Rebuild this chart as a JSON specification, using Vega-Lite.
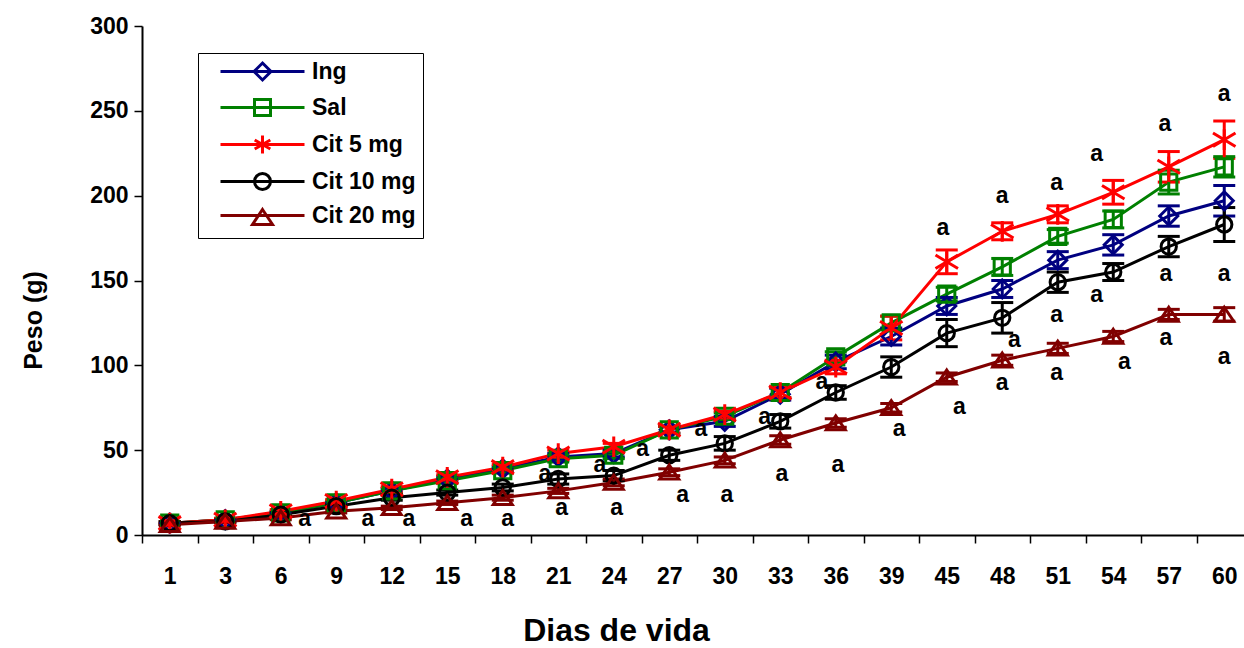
{
  "$schema": "https://vega.github.io/schema/vega-lite/v6.json",
  "autosize": {"type": "none"},
  "width": 1102,
  "height": 509,
  "padding": {"left": 142, "top": 26, "right": 0, "bottom": 113},
  "background": "#ffffff",
  "config": {
    "view": {"stroke": null},
    "font": "Liberation Sans",
    "axis": {"labelFont": "Liberation Sans", "titleFont": "Liberation Sans", "labelFontWeight": "bold", "titleFontWeight": "bold", "labelColor": "#000", "titleColor": "#000", "domainColor": "#000", "tickColor": "#000", "grid": false}
  },
  "datasets": {
    "pesos": [
      {"serie": "Ing", "dia": 1, "peso": 7, "ep": 0.8},
      {"serie": "Ing", "dia": 3, "peso": 9, "ep": 0.8},
      {"serie": "Ing", "dia": 6, "peso": 13, "ep": 1},
      {"serie": "Ing", "dia": 9, "peso": 19, "ep": 1},
      {"serie": "Ing", "dia": 12, "peso": 26, "ep": 1.5},
      {"serie": "Ing", "dia": 15, "peso": 33, "ep": 1.5},
      {"serie": "Ing", "dia": 18, "peso": 39, "ep": 1.5},
      {"serie": "Ing", "dia": 21, "peso": 46, "ep": 2},
      {"serie": "Ing", "dia": 24, "peso": 48, "ep": 2},
      {"serie": "Ing", "dia": 27, "peso": 62, "ep": 2},
      {"serie": "Ing", "dia": 30, "peso": 67, "ep": 3},
      {"serie": "Ing", "dia": 33, "peso": 83, "ep": 3.5},
      {"serie": "Ing", "dia": 36, "peso": 102, "ep": 4},
      {"serie": "Ing", "dia": 39, "peso": 117, "ep": 5},
      {"serie": "Ing", "dia": 45, "peso": 135, "ep": 5},
      {"serie": "Ing", "dia": 48, "peso": 145, "ep": 5},
      {"serie": "Ing", "dia": 51, "peso": 162, "ep": 5},
      {"serie": "Ing", "dia": 54, "peso": 171, "ep": 6},
      {"serie": "Ing", "dia": 57, "peso": 188, "ep": 6},
      {"serie": "Ing", "dia": 60, "peso": 197, "ep": 9},
      {"serie": "Sal", "dia": 1, "peso": 7, "ep": 0.8},
      {"serie": "Sal", "dia": 3, "peso": 9, "ep": 0.8},
      {"serie": "Sal", "dia": 6, "peso": 13, "ep": 1},
      {"serie": "Sal", "dia": 9, "peso": 19, "ep": 1},
      {"serie": "Sal", "dia": 12, "peso": 26, "ep": 1.5},
      {"serie": "Sal", "dia": 15, "peso": 32, "ep": 1.5},
      {"serie": "Sal", "dia": 18, "peso": 38, "ep": 1.5},
      {"serie": "Sal", "dia": 21, "peso": 45, "ep": 2},
      {"serie": "Sal", "dia": 24, "peso": 47, "ep": 2},
      {"serie": "Sal", "dia": 27, "peso": 62, "ep": 2},
      {"serie": "Sal", "dia": 30, "peso": 70, "ep": 2},
      {"serie": "Sal", "dia": 33, "peso": 84, "ep": 3},
      {"serie": "Sal", "dia": 36, "peso": 105, "ep": 3},
      {"serie": "Sal", "dia": 39, "peso": 125, "ep": 4},
      {"serie": "Sal", "dia": 45, "peso": 142, "ep": 4},
      {"serie": "Sal", "dia": 48, "peso": 158, "ep": 5},
      {"serie": "Sal", "dia": 51, "peso": 176, "ep": 4},
      {"serie": "Sal", "dia": 54, "peso": 186, "ep": 5},
      {"serie": "Sal", "dia": 57, "peso": 208, "ep": 7},
      {"serie": "Sal", "dia": 60, "peso": 217, "ep": 6},
      {"serie": "Cit 5 mg", "dia": 1, "peso": 7, "ep": 0.8},
      {"serie": "Cit 5 mg", "dia": 3, "peso": 9, "ep": 0.8},
      {"serie": "Cit 5 mg", "dia": 6, "peso": 14, "ep": 1},
      {"serie": "Cit 5 mg", "dia": 9, "peso": 20, "ep": 1},
      {"serie": "Cit 5 mg", "dia": 12, "peso": 27, "ep": 1.5},
      {"serie": "Cit 5 mg", "dia": 15, "peso": 34, "ep": 1.5},
      {"serie": "Cit 5 mg", "dia": 18, "peso": 40, "ep": 1.5},
      {"serie": "Cit 5 mg", "dia": 21, "peso": 48, "ep": 2},
      {"serie": "Cit 5 mg", "dia": 24, "peso": 52, "ep": 2},
      {"serie": "Cit 5 mg", "dia": 27, "peso": 62, "ep": 2},
      {"serie": "Cit 5 mg", "dia": 30, "peso": 71, "ep": 2},
      {"serie": "Cit 5 mg", "dia": 33, "peso": 84, "ep": 3},
      {"serie": "Cit 5 mg", "dia": 36, "peso": 99, "ep": 4},
      {"serie": "Cit 5 mg", "dia": 39, "peso": 122, "ep": 7},
      {"serie": "Cit 5 mg", "dia": 45, "peso": 161, "ep": 7},
      {"serie": "Cit 5 mg", "dia": 48, "peso": 179, "ep": 5},
      {"serie": "Cit 5 mg", "dia": 51, "peso": 189, "ep": 5},
      {"serie": "Cit 5 mg", "dia": 54, "peso": 202, "ep": 7},
      {"serie": "Cit 5 mg", "dia": 57, "peso": 217, "ep": 9},
      {"serie": "Cit 5 mg", "dia": 60, "peso": 233, "ep": 11},
      {"serie": "Cit 10 mg", "dia": 1, "peso": 7, "ep": 0.8},
      {"serie": "Cit 10 mg", "dia": 3, "peso": 8, "ep": 0.8},
      {"serie": "Cit 10 mg", "dia": 6, "peso": 12, "ep": 1},
      {"serie": "Cit 10 mg", "dia": 9, "peso": 17, "ep": 1},
      {"serie": "Cit 10 mg", "dia": 12, "peso": 22, "ep": 1.5},
      {"serie": "Cit 10 mg", "dia": 15, "peso": 25, "ep": 1.5},
      {"serie": "Cit 10 mg", "dia": 18, "peso": 28, "ep": 2},
      {"serie": "Cit 10 mg", "dia": 21, "peso": 33, "ep": 3},
      {"serie": "Cit 10 mg", "dia": 24, "peso": 35, "ep": 3},
      {"serie": "Cit 10 mg", "dia": 27, "peso": 47, "ep": 3},
      {"serie": "Cit 10 mg", "dia": 30, "peso": 54, "ep": 4},
      {"serie": "Cit 10 mg", "dia": 33, "peso": 67, "ep": 4},
      {"serie": "Cit 10 mg", "dia": 36, "peso": 84, "ep": 4},
      {"serie": "Cit 10 mg", "dia": 39, "peso": 99, "ep": 6},
      {"serie": "Cit 10 mg", "dia": 45, "peso": 119, "ep": 8},
      {"serie": "Cit 10 mg", "dia": 48, "peso": 128, "ep": 9},
      {"serie": "Cit 10 mg", "dia": 51, "peso": 149, "ep": 6},
      {"serie": "Cit 10 mg", "dia": 54, "peso": 155, "ep": 5},
      {"serie": "Cit 10 mg", "dia": 57, "peso": 170, "ep": 6},
      {"serie": "Cit 10 mg", "dia": 60, "peso": 183, "ep": 10},
      {"serie": "Cit 20 mg", "dia": 1, "peso": 6, "ep": 0.8},
      {"serie": "Cit 20 mg", "dia": 3, "peso": 8, "ep": 0.8},
      {"serie": "Cit 20 mg", "dia": 6, "peso": 10, "ep": 1},
      {"serie": "Cit 20 mg", "dia": 9, "peso": 14, "ep": 1},
      {"serie": "Cit 20 mg", "dia": 12, "peso": 16, "ep": 1},
      {"serie": "Cit 20 mg", "dia": 15, "peso": 19, "ep": 1},
      {"serie": "Cit 20 mg", "dia": 18, "peso": 22, "ep": 1.5},
      {"serie": "Cit 20 mg", "dia": 21, "peso": 26, "ep": 1.5},
      {"serie": "Cit 20 mg", "dia": 24, "peso": 31, "ep": 2},
      {"serie": "Cit 20 mg", "dia": 27, "peso": 37, "ep": 2},
      {"serie": "Cit 20 mg", "dia": 30, "peso": 44, "ep": 2},
      {"serie": "Cit 20 mg", "dia": 33, "peso": 56, "ep": 2.5},
      {"serie": "Cit 20 mg", "dia": 36, "peso": 66, "ep": 2.5},
      {"serie": "Cit 20 mg", "dia": 39, "peso": 75, "ep": 2.5},
      {"serie": "Cit 20 mg", "dia": 45, "peso": 93, "ep": 2.5},
      {"serie": "Cit 20 mg", "dia": 48, "peso": 103, "ep": 3},
      {"serie": "Cit 20 mg", "dia": 51, "peso": 110, "ep": 3},
      {"serie": "Cit 20 mg", "dia": 54, "peso": 117, "ep": 3},
      {"serie": "Cit 20 mg", "dia": 57, "peso": 130, "ep": 3},
      {"serie": "Cit 20 mg", "dia": 60, "peso": 130, "ep": 4}
    ],
    "letras": [
      {"dia": 6, "desl": 0.43, "peso": 10.6, "letra": "a"},
      {"dia": 9, "desl": 0.57, "peso": 10.6, "letra": "a"},
      {"dia": 12, "desl": 0.31, "peso": 10.6, "letra": "a"},
      {"dia": 15, "desl": 0.35, "peso": 10.6, "letra": "a"},
      {"dia": 18, "desl": 0.09, "peso": 10.6, "letra": "a"},
      {"dia": 21, "desl": 0.06, "peso": 17.1, "letra": "a"},
      {"dia": 24, "desl": 0.05, "peso": 17.1, "letra": "a"},
      {"dia": 21, "desl": -0.24, "peso": 37.2, "letra": "a"},
      {"dia": 24, "desl": -0.25, "peso": 42.5, "letra": "a"},
      {"dia": 24, "desl": 0.52, "peso": 52, "letra": "a"},
      {"dia": 27, "desl": 0.24, "peso": 24.8, "letra": "a"},
      {"dia": 30, "desl": 0.04, "peso": 24.8, "letra": "a"},
      {"dia": 30, "desl": -0.43, "peso": 63.8, "letra": "a"},
      {"dia": 33, "desl": -0.28, "peso": 70.9, "letra": "a"},
      {"dia": 33, "desl": 0.03, "peso": 37.2, "letra": "a"},
      {"dia": 36, "desl": 0.04, "peso": 42.5, "letra": "a"},
      {"dia": 36, "desl": -0.25, "peso": 91.6, "letra": "a"},
      {"dia": 39, "desl": 0.14, "peso": 63.8, "letra": "a"},
      {"dia": 45, "desl": -0.07, "peso": 181.9, "letra": "a"},
      {"dia": 48, "desl": 0, "peso": 200.8, "letra": "a"},
      {"dia": 51, "desl": -0.02, "peso": 208.5, "letra": "a"},
      {"dia": 54, "desl": -0.3, "peso": 225.6, "letra": "a"},
      {"dia": 57, "desl": -0.07, "peso": 243.4, "letra": "a"},
      {"dia": 60, "desl": 0, "peso": 261.1, "letra": "a"},
      {"dia": 57, "desl": -0.05, "peso": 154.8, "letra": "a"},
      {"dia": 60, "desl": 0, "peso": 154.8, "letra": "a"},
      {"dia": 54, "desl": -0.3, "peso": 142.4, "letra": "a"},
      {"dia": 51, "desl": -0.02, "peso": 131.1, "letra": "a"},
      {"dia": 48, "desl": 0.22, "peso": 116.4, "letra": "a"},
      {"dia": 51, "desl": -0.02, "peso": 96.9, "letra": "a"},
      {"dia": 48, "desl": 0, "peso": 91, "letra": "a"},
      {"dia": 45, "desl": 0.23, "peso": 76.8, "letra": "a"},
      {"dia": 54, "desl": 0.2, "peso": 103.4, "letra": "a"},
      {"dia": 57, "desl": -0.05, "peso": 117, "letra": "a"},
      {"dia": 60, "desl": 0, "peso": 106.3, "letra": "a"}
    ]
  },
  "encoding": {
    "x": {
      "field": "dia", "type": "ordinal",
      "scale": {"range": [0, 1110], "paddingInner": 0, "paddingOuter": 0},
      "axis": {
        "title": "Dias de vida", "labelAngle": 0, "tickBand": "extent",
        "tickSize": 8, "tickWidth": 1.5, "domainWidth": 2,
        "labelFontSize": 23, "labelPadding": 22,
        "titleFontSize": 32, "titleX": 474, "titleY": 105,
        "titleAlign": "center", "titleBaseline": "alphabetic"
      }
    },
    "y": {
      "field": "peso", "type": "quantitative",
      "scale": {"domain": [0, 300], "nice": false, "zero": true},
      "axis": {
        "title": "Peso (g)", "values": [0, 50, 100, 150, 200, 250, 300],
        "tickSize": 8, "tickWidth": 1.5, "domainWidth": 2,
        "labelFontSize": 23, "labelPadding": 6,
        "titleFontSize": 25, "titleX": -109, "titleY": 294,
        "titleAlign": "center", "titleBaseline": "middle", "titleAngle": 270
      }
    }
  },
  "layer": [
    {
      "data": {"values": [{}]},
      "mark": {"type": "rule", "color": "#8a8a8a", "strokeWidth": 3},
      "encoding": {"x": null, "y": {"datum": 300}}
    },
    {
      "data": {"name": "pesos"},
      "mark": {"type": "line", "strokeWidth": 3},
      "encoding": {
        "color": {"field": "serie", "type": "nominal", "legend": null,
          "scale": {"domain": ["Ing", "Sal", "Cit 5 mg", "Cit 10 mg", "Cit 20 mg"], "range": ["#000080", "#008000", "#ff0000", "#000000", "#800000"]}}
      }
    },
    {
      "data": {"name": "pesos"},
      "mark": {"type": "errorbar", "opacity": 1, "ticks": {"size": 22, "thickness": 3, "opacity": 1}, "rule": {"strokeWidth": 3, "opacity": 1}},
      "encoding": {
        "yError": {"field": "ep"},
        "color": {"field": "serie", "type": "nominal", "legend": null,
          "scale": {"domain": ["Ing", "Sal", "Cit 5 mg", "Cit 10 mg", "Cit 20 mg"], "range": ["#000080", "#008000", "#ff0000", "#000000", "#800000"]}}
      }
    },
    {
      "data": {"name": "pesos"},
      "mark": {"type": "point", "filled": false, "strokeWidth": 3, "size": 324, "opacity": 1},
      "encoding": {
        "color": {"field": "serie", "type": "nominal", "legend": null,
          "scale": {"domain": ["Ing", "Sal", "Cit 5 mg", "Cit 10 mg", "Cit 20 mg"], "range": ["#000080", "#008000", "#ff0000", "#000000", "#800000"]}},
        "shape": {"field": "serie", "type": "nominal", "legend": null,
          "scale": {"domain": ["Ing", "Sal", "Cit 5 mg", "Cit 10 mg", "Cit 20 mg"],
            "range": [
              "M0,-1L1,0L0,1L-1,0Z",
              "M-0.9,-0.9H0.9V0.9H-0.9Z",
              "M0,-1.15V1.15M-1.25,-0.75L1.25,0.75M-1.25,0.75L1.25,-0.75",
              "M0.85,0A0.85,0.85 0 1,1 -0.85,0A0.85,0.85 0 1,1 0.85,0Z",
              "M0,-0.8L1.05,0.75H-1.05Z"
            ]}}
      }
    },
    {
      "data": {"name": "pesos"},
      "mark": {"type": "point", "filled": false, "opacity": 0, "strokeWidth": 3},
      "encoding": {
        "color": {"field": "serie", "type": "nominal",
          "scale": {"domain": ["Ing", "Sal", "Cit 5 mg", "Cit 10 mg", "Cit 20 mg"], "range": ["#000080", "#008000", "#ff0000", "#000000", "#800000"]},
          "legend": {
            "title": null, "orient": "none", "legendX": 56, "legendY": 27,
            "strokeColor": "#000", "padding": 7, "symbolSize": 400, "symbolOpacity": 1,
            "symbolStrokeWidth": 3, "labelOffset": 84, "labelFontSize": 23,
            "labelFont": "Liberation Sans", "labelFontWeight": "bold", "labelColor": "#000",
            "rowPadding": 7, "labelBaseline": "middle"
          }},
        "shape": {"field": "serie", "type": "nominal",
          "scale": {"domain": ["Ing", "Sal", "Cit 5 mg", "Cit 10 mg", "Cit 20 mg"],
            "range": [
              "M0.4,0H8.8M4.6,-0.85L5.45,0L4.6,0.85L3.75,0Z",
              "M0.4,0H8.8M3.8,-0.8H5.4V0.8H3.8Z",
              "M0.4,0H8.8M4.6,-0.9V0.9M3.82,-0.45L5.38,0.45M3.82,0.45L5.38,-0.45",
              "M0.4,0H8.8M5.4,0A0.8,0.8 0 1,1 3.8,0A0.8,0.8 0 1,1 5.4,0Z",
              "M0.4,0H8.8M4.6,-0.6L5.6,0.9H3.6Z"
            ]},
          "legend": {
            "title": null, "orient": "none", "legendX": 56, "legendY": 27,
            "strokeColor": "#000", "padding": 7, "symbolSize": 400, "symbolOpacity": 1,
            "symbolStrokeWidth": 3, "labelOffset": 84, "labelFontSize": 23,
            "labelFont": "Liberation Sans", "labelFontWeight": "bold", "labelColor": "#000",
            "rowPadding": 7, "labelBaseline": "middle"
          }}
      }
    },
    {
      "data": {"name": "letras"},
      "mark": {"type": "text", "font": "Liberation Sans", "fontWeight": "bold", "fontSize": 23, "color": "#000", "align": "center", "baseline": "middle", "dy": 2},
      "encoding": {
        "xOffset": {"field": "desl", "type": "quantitative", "scale": {"domain": [-0.5, 0.5]}},
        "text": {"field": "letra"}
      }
    }
  ],
  "resolve": {"scale": {"shape": "independent", "color": "independent"}, "legend": {"shape": "independent", "color": "independent"}}
}
